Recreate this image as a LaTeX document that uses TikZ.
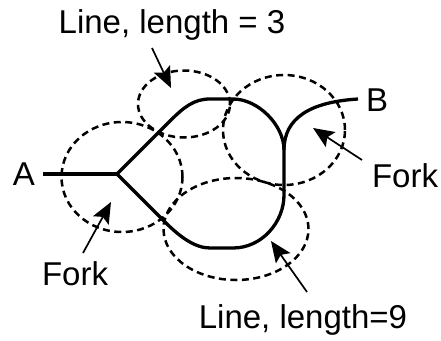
\documentclass[tikz,border=0pt]{standalone}
\usepackage{fontspec}
\setmainfont{Liberation Sans}
\usetikzlibrary{shapes.geometric,calc}
\tikzset{
  lbl/.style={inner sep=0pt, anchor=base, font=\fontsize{33}{39}\selectfont},
  mainline/.style={line width=3.3pt, line join=round},
  zone/.style={ellipse, draw, dash pattern=on 7pt off 4.5pt, line width=2.5pt, inner sep=0pt},
  pointer/.style={line width=1.7pt},
  pointerhead/.style={fill=black}
}
\begin{document}
\begin{tikzpicture}[x=1pt,y=1pt]
\useasboundingbox (0,0) rectangle (441,-340);
% dashed zones
\node[zone, minimum width=121pt, minimum height=110pt] (zl) at (122,-177) {};
\node[zone, minimum width=92pt, minimum height=67pt] (zt) at (184,-104) {};
\node[zone, minimum width=122pt, minimum height=110pt] (zr) at (284,-130) {};
\node[zone, minimum width=145pt, minimum height=102pt] (zb) at (236,-229) {};
% labels
\node[lbl] (A) at (24,-185) {A};
\node[lbl] (B) at (377,-111) {B};
\node[lbl] (lt) at (172,-33) {Line, length = 3};
\node[lbl] (lb) at (303,-328) {Line, length=9};
\node[lbl] (fl) at (75,-285) {Fork};
\node[lbl] (fr) at (405,-187) {Fork};
% main path
\coordinate (a0) at (43,-174);
\coordinate (f1) at (117,-174);
\coordinate (f2) at (284,-150);
\coordinate (b0) at (358,-99);
\draw[mainline] (a0) -- (f1);
\draw[mainline] (f1) -- (170,-121) .. controls (184,-107) and (194,-99) .. (210,-99) -- (233,-99) .. controls (258,-99) and (284,-125) .. (f2);
\draw[mainline] (f1) -- (165,-222) .. controls (180,-237) and (195,-248) .. (210,-248) -- (233,-248) .. controls (262,-248) and (284,-222) .. (284,-195) -- (f2);
\draw[mainline] (f2) .. controls (284,-118) and (310,-102) .. (b0);
% pointers
\coordinate (pt0) at (152,-48);  \coordinate (pt1) at (171,-88);
\coordinate (pl0) at (83,-253);  \coordinate (pl1) at (111,-202);
\coordinate (pr0) at (362,-160); \coordinate (pr1) at (313,-128);
\coordinate (pb0) at (307,-292); \coordinate (pb1) at (271,-241);
\foreach \s/\t in {pt0/pt1, pl0/pl1, pr0/pr1, pb0/pb1}{
  \draw[pointer] (\s) -- ($(\t)!15pt!(\s)$);
  \fill[pointerhead] (\t) -- ($(\t)!23pt!23:(\s)$) -- ($(\t)!17pt!(\s)$) -- ($(\t)!23pt!-23:(\s)$) -- cycle;
}
\end{tikzpicture}
\end{document}
